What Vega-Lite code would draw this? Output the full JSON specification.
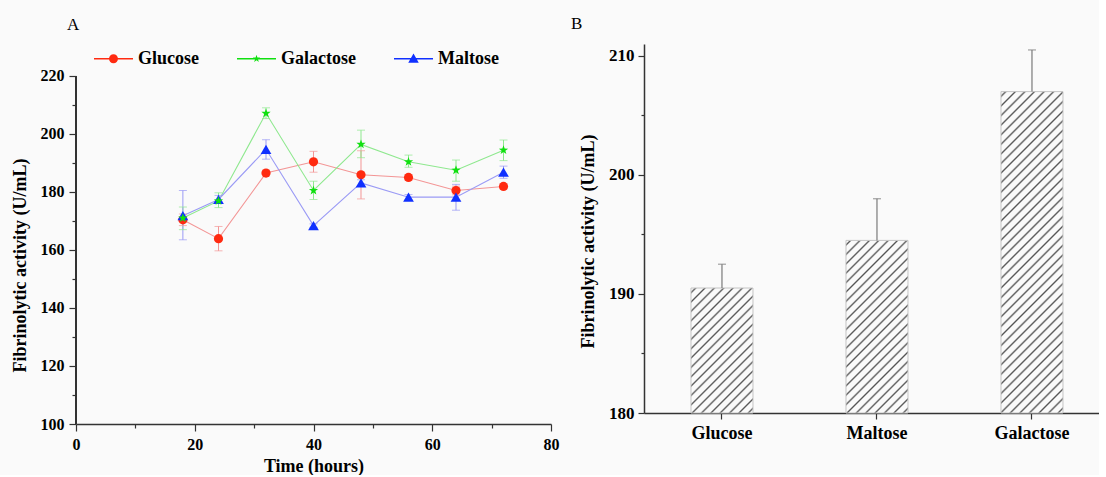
{
"$schema": "https://vega.github.io/schema/vega-lite/v6.json",
"background": "#fafafa",
"padding": {"left": 11, "top": 15, "right": 0, "bottom": 0},
"spacing": 12,
"config": {
  "font": "Liberation Serif",
  "view": {"stroke": null},
  "axis": {"labelFont": "Liberation Serif", "labelFontWeight": "bold", "labelFontSize": 16, "labelColor": "#000", "titleFont": "Liberation Serif", "titleFontWeight": "bold", "titleFontSize": 18, "titleColor": "#000", "domainColor": "#333", "domainWidth": 1.5, "tickColor": "#333", "tickWidth": 1.2, "grid": false, "labelFlush": false, "labelOverlap": false},
  "title": {"font": "Liberation Serif", "fontSize": 17, "fontWeight": "normal", "anchor": "start", "frame": "group", "color": "#000"}
},
"hconcat": [
{
  "width": 475, "height": 380,
  "title": {"text": "A", "dx": -9, "offset": 10},
  "data": {"values": [
    {"time": 18, "sugar": "Glucose", "value": 170.4, "lo": 168.4, "hi": 172.4},
    {"time": 24, "sugar": "Glucose", "value": 163.9, "lo": 159.7, "hi": 168.1},
    {"time": 32, "sugar": "Glucose", "value": 186.5, "lo": 185.5, "hi": 187.5},
    {"time": 40, "sugar": "Glucose", "value": 190.4, "lo": 186.8, "hi": 194.0},
    {"time": 48, "sugar": "Glucose", "value": 185.9, "lo": 177.6, "hi": 194.2},
    {"time": 56, "sugar": "Glucose", "value": 185.0, "lo": 184.0, "hi": 186.0},
    {"time": 64, "sugar": "Glucose", "value": 180.5, "lo": 179.0, "hi": 182.0},
    {"time": 72, "sugar": "Glucose", "value": 181.9, "lo": 181.0, "hi": 182.8},
    {"time": 18, "sugar": "Galactose", "value": 171.0, "lo": 167.0, "hi": 174.8},
    {"time": 24, "sugar": "Galactose", "value": 176.9, "lo": 174.6, "hi": 179.7},
    {"time": 32, "sugar": "Galactose", "value": 207.1, "lo": 205.3, "hi": 209.0},
    {"time": 40, "sugar": "Galactose", "value": 180.5, "lo": 177.4, "hi": 183.7},
    {"time": 48, "sugar": "Galactose", "value": 196.4, "lo": 191.8, "hi": 201.3},
    {"time": 56, "sugar": "Galactose", "value": 190.4, "lo": 188.5, "hi": 192.7},
    {"time": 64, "sugar": "Galactose", "value": 187.5, "lo": 183.7, "hi": 191.0},
    {"time": 72, "sugar": "Galactose", "value": 194.4, "lo": 190.8, "hi": 197.9},
    {"time": 18, "sugar": "Maltose", "value": 171.8, "lo": 163.5, "hi": 180.5},
    {"time": 24, "sugar": "Maltose", "value": 177.4, "lo": 176.0, "hi": 178.8},
    {"time": 32, "sugar": "Maltose", "value": 194.7, "lo": 191.3, "hi": 198.0},
    {"time": 40, "sugar": "Maltose", "value": 168.4, "lo": 167.8, "hi": 169.0},
    {"time": 48, "sugar": "Maltose", "value": 183.1, "lo": 182.0, "hi": 184.2},
    {"time": 56, "sugar": "Maltose", "value": 178.2, "lo": 177.3, "hi": 179.1},
    {"time": 64, "sugar": "Maltose", "value": 178.2, "lo": 173.7, "hi": 182.6},
    {"time": 72, "sugar": "Maltose", "value": 186.8, "lo": 184.7, "hi": 188.9}
  ]},
  "encoding": {
    "x": {"field": "time", "type": "quantitative", "title": "Time (hours)", "scale": {"domain": [0, 80], "nice": false}, "axis": {"values": [0,10,20,30,40,50,60,70,80], "labelExpr": "datum.value % 20 === 0 ? datum.label : ''", "tickSize": {"condition": {"test": "datum.value % 20 === 0", "value": 7}, "value": 4}, "titlePadding": 5, "labelPadding": 5}},
    "y": {"field": "value", "type": "quantitative", "title": "Fibrinolytic activity (U/mL)", "scale": {"domain": [100, 231], "nice": false, "zero": false}, "axis": {"values": [100,110,120,130,140,150,160,170,180,190,200,210,220], "domain": false, "labelExpr": "datum.value % 20 === 0 ? datum.label : ''", "tickSize": {"condition": {"test": "datum.value % 20 === 0", "value": 7}, "value": 4}, "titlePadding": 11, "labelPadding": 5, "titleY": 221}}
  },
  "layer": [
    {"mark": {"type": "rule", "color": "#333", "strokeWidth": 1.5},
     "encoding": {"x": {"datum": 0, "type": "quantitative", "title": "Time (hours)"}, "y": {"datum": 100, "type": "quantitative", "title": "Fibrinolytic activity (U/mL)"}, "y2": {"datum": 220}}},
    {"mark": {"type": "line", "strokeWidth": 1.1},
     "encoding": {"stroke": {"field": "sugar", "type": "nominal", "scale": {"range": ["#8ee88e", "#f39595", "#9a9af5"]}, "legend": null}}},
    {"mark": {"type": "rule", "strokeWidth": 1},
     "encoding": {"y": {"field": "lo", "type": "quantitative", "title": "Fibrinolytic activity (U/mL)"}, "y2": {"field": "hi"},
       "stroke": {"field": "sugar", "type": "nominal", "scale": {"range": ["#8ee88e", "#f39595", "#9a9af5"]}, "legend": null}}},
    {"mark": {"type": "tick", "orient": "horizontal", "size": 8, "thickness": 1},
     "encoding": {"y": {"field": "lo", "type": "quantitative", "title": "Fibrinolytic activity (U/mL)"},
       "fill": {"field": "sugar", "type": "nominal", "scale": {"range": ["#8ee88e", "#f39595", "#9a9af5"]}, "legend": null}}},
    {"mark": {"type": "tick", "orient": "horizontal", "size": 8, "thickness": 1},
     "encoding": {"y": {"field": "hi", "type": "quantitative", "title": "Fibrinolytic activity (U/mL)"},
       "fill": {"field": "sugar", "type": "nominal", "scale": {"range": ["#8ee88e", "#f39595", "#9a9af5"]}, "legend": null}}},
    {"mark": {"type": "point", "filled": true, "opacity": 0, "strokeWidth": 0},
     "encoding": {
       "color": {"field": "sugar", "type": "nominal", "scale": {"domain": ["Glucose", "Galactose", "Maltose"], "range": ["#ff2a10", "#10e010", "#1030ff"]},
         "legend": {"orient": "none", "legendX": 18, "legendY": -5, "direction": "horizontal", "title": null, "labelFont": "Liberation Serif", "labelFontWeight": "bold", "labelFontSize": 18, "labelColor": "#000", "symbolSize": 1521, "symbolStrokeWidth": 0, "columnPadding": 38, "labelOffset": 5, "symbolOpacity": 1, "padding": 0}},
       "shape": {"field": "sugar", "type": "nominal", "scale": {"domain": ["Glucose", "Galactose", "Maltose"], "range": [
           "M-1,-0.033H1V0.033H-1Z M-0.23,0A0.23,0.23,0,1,1,0.23,0A0.23,0.23,0,1,1,-0.23,0Z",
           "M-1,-0.033H1V0.033H-1Z M0,-0.2L0.047,-0.065L0.19,-0.062L0.076,0.025L0.118,0.162L0,0.08L-0.118,0.162L-0.076,0.025L-0.19,-0.062L-0.047,-0.065Z",
           "M-1,-0.033H1V0.033H-1Z M0,-0.27L0.27,0.2H-0.27Z"]},
         "legend": {"orient": "none", "legendX": 18, "legendY": -5, "direction": "horizontal", "title": null, "labelFont": "Liberation Serif", "labelFontWeight": "bold", "labelFontSize": 18, "labelColor": "#000", "symbolSize": 1521, "symbolStrokeWidth": 0, "columnPadding": 38, "labelOffset": 5, "symbolOpacity": 1, "padding": 0}}
     }},
    {"transform": [{"filter": "datum.sugar === 'Glucose'"}],
     "mark": {"type": "point", "shape": "circle", "filled": true, "fill": "#ff2a10", "size": 85, "opacity": 1, "strokeWidth": 0}},
    {"transform": [{"filter": "datum.sugar === 'Maltose'"}],
     "mark": {"type": "point", "shape": "triangle-up", "filled": true, "fill": "#1030ff", "size": 115, "opacity": 1, "strokeWidth": 0}},
    {"transform": [{"filter": "datum.sugar === 'Galactose'"}],
     "mark": {"type": "point", "shape": "M0,-1L0.235,-0.324L0.951,-0.309L0.38,0.124L0.588,0.809L0,0.4L-0.588,0.809L-0.38,0.124L-0.951,-0.309L-0.235,-0.324Z", "filled": true, "fill": "#10e010", "size": 95, "opacity": 1, "strokeWidth": 0}}
  ]
},
{
  "width": 455, "height": 369,
  "title": {"text": "B", "dx": -73, "offset": 11},
  "data": {"values": [
    {"carbon": "Glucose", "value": 190.5, "hi": 192.5},
    {"carbon": "Maltose", "value": 194.5, "hi": 198.0},
    {"carbon": "Galactose", "value": 207.0, "hi": 210.5}
  ]},
  "encoding": {
    "x": {"field": "carbon", "type": "nominal", "sort": null, "title": null, "scale": {"paddingInner": 0.6, "paddingOuter": 0.2677, "align": 0.566}, "axis": {"labelAngle": 0, "tickSize": 6, "labelPadding": 5, "labelFontSize": 18}}
  },
  "layer": [
    {"mark": {"type": "bar", "stroke": "#c4c4c4", "strokeWidth": 1},
     "encoding": {
       "y": {"field": "value", "type": "quantitative", "title": "Fibrinolytic activity (U/mL)", "scale": {"domain": [180, 211], "nice": false, "zero": false}, "axis": {"values": [180,185,190,195,200,205,210], "labelExpr": "datum.value % 10 === 0 ? datum.label : ''", "labelFontSize": 17, "tickSize": {"condition": {"test": "datum.value % 10 === 0", "value": 6}, "value": 3}, "titlePadding": 11, "labelPadding": 4, "titleY": 197}},
       "y2": {"datum": 180},
       "fill": {"condition": [
         {"test": "datum.carbon === 'Glucose'", "value": {"gradient": "linear", "x1": 0, "y1": 0, "x2": 0.5955, "y2": 1.2006, "stops": [
{"offset":0.015,"color":"#fafafa"},{"offset":0.025,"color":"#555555"},{"offset":0.035,"color":"#fafafa"},
{"offset":0.065,"color":"#fafafa"},{"offset":0.075,"color":"#555555"},{"offset":0.085,"color":"#fafafa"},
{"offset":0.115,"color":"#fafafa"},{"offset":0.125,"color":"#555555"},{"offset":0.135,"color":"#fafafa"},
{"offset":0.165,"color":"#fafafa"},{"offset":0.175,"color":"#555555"},{"offset":0.185,"color":"#fafafa"},
{"offset":0.215,"color":"#fafafa"},{"offset":0.225,"color":"#555555"},{"offset":0.235,"color":"#fafafa"},
{"offset":0.265,"color":"#fafafa"},{"offset":0.275,"color":"#555555"},{"offset":0.285,"color":"#fafafa"},
{"offset":0.315,"color":"#fafafa"},{"offset":0.325,"color":"#555555"},{"offset":0.335,"color":"#fafafa"},
{"offset":0.365,"color":"#fafafa"},{"offset":0.375,"color":"#555555"},{"offset":0.385,"color":"#fafafa"},
{"offset":0.415,"color":"#fafafa"},{"offset":0.425,"color":"#555555"},{"offset":0.435,"color":"#fafafa"},
{"offset":0.465,"color":"#fafafa"},{"offset":0.475,"color":"#555555"},{"offset":0.485,"color":"#fafafa"},
{"offset":0.515,"color":"#fafafa"},{"offset":0.525,"color":"#555555"},{"offset":0.535,"color":"#fafafa"},
{"offset":0.565,"color":"#fafafa"},{"offset":0.575,"color":"#555555"},{"offset":0.585,"color":"#fafafa"},
{"offset":0.615,"color":"#fafafa"},{"offset":0.625,"color":"#555555"},{"offset":0.635,"color":"#fafafa"},
{"offset":0.665,"color":"#fafafa"},{"offset":0.675,"color":"#555555"},{"offset":0.685,"color":"#fafafa"},
{"offset":0.715,"color":"#fafafa"},{"offset":0.725,"color":"#555555"},{"offset":0.735,"color":"#fafafa"},
{"offset":0.765,"color":"#fafafa"},{"offset":0.775,"color":"#555555"},{"offset":0.785,"color":"#fafafa"},
{"offset":0.815,"color":"#fafafa"},{"offset":0.825,"color":"#555555"},{"offset":0.835,"color":"#fafafa"},
{"offset":0.865,"color":"#fafafa"},{"offset":0.875,"color":"#555555"},{"offset":0.885,"color":"#fafafa"},
{"offset":0.915,"color":"#fafafa"},{"offset":0.925,"color":"#555555"},{"offset":0.935,"color":"#fafafa"},
{"offset":0.965,"color":"#fafafa"},{"offset":0.975,"color":"#555555"},{"offset":0.985,"color":"#fafafa"}
         ]}},
         {"test": "datum.carbon === 'Maltose'", "value": {"gradient": "linear", "x1": 0, "y1": 0, "x2": 0.4324, "y2": 1.2039, "stops": [
{"offset":0.012,"color":"#fafafa"},{"offset":0.02,"color":"#555555"},{"offset":0.028,"color":"#fafafa"},
{"offset":0.052,"color":"#fafafa"},{"offset":0.06,"color":"#555555"},{"offset":0.068,"color":"#fafafa"},
{"offset":0.092,"color":"#fafafa"},{"offset":0.1,"color":"#555555"},{"offset":0.108,"color":"#fafafa"},
{"offset":0.132,"color":"#fafafa"},{"offset":0.14,"color":"#555555"},{"offset":0.148,"color":"#fafafa"},
{"offset":0.172,"color":"#fafafa"},{"offset":0.18,"color":"#555555"},{"offset":0.188,"color":"#fafafa"},
{"offset":0.212,"color":"#fafafa"},{"offset":0.22,"color":"#555555"},{"offset":0.228,"color":"#fafafa"},
{"offset":0.252,"color":"#fafafa"},{"offset":0.26,"color":"#555555"},{"offset":0.268,"color":"#fafafa"},
{"offset":0.292,"color":"#fafafa"},{"offset":0.3,"color":"#555555"},{"offset":0.308,"color":"#fafafa"},
{"offset":0.332,"color":"#fafafa"},{"offset":0.34,"color":"#555555"},{"offset":0.348,"color":"#fafafa"},
{"offset":0.372,"color":"#fafafa"},{"offset":0.38,"color":"#555555"},{"offset":0.388,"color":"#fafafa"},
{"offset":0.412,"color":"#fafafa"},{"offset":0.42,"color":"#555555"},{"offset":0.428,"color":"#fafafa"},
{"offset":0.452,"color":"#fafafa"},{"offset":0.46,"color":"#555555"},{"offset":0.468,"color":"#fafafa"},
{"offset":0.492,"color":"#fafafa"},{"offset":0.5,"color":"#555555"},{"offset":0.508,"color":"#fafafa"},
{"offset":0.532,"color":"#fafafa"},{"offset":0.54,"color":"#555555"},{"offset":0.548,"color":"#fafafa"},
{"offset":0.572,"color":"#fafafa"},{"offset":0.58,"color":"#555555"},{"offset":0.588,"color":"#fafafa"},
{"offset":0.612,"color":"#fafafa"},{"offset":0.62,"color":"#555555"},{"offset":0.628,"color":"#fafafa"},
{"offset":0.652,"color":"#fafafa"},{"offset":0.66,"color":"#555555"},{"offset":0.668,"color":"#fafafa"},
{"offset":0.692,"color":"#fafafa"},{"offset":0.7,"color":"#555555"},{"offset":0.708,"color":"#fafafa"},
{"offset":0.732,"color":"#fafafa"},{"offset":0.74,"color":"#555555"},{"offset":0.748,"color":"#fafafa"},
{"offset":0.772,"color":"#fafafa"},{"offset":0.78,"color":"#555555"},{"offset":0.788,"color":"#fafafa"},
{"offset":0.812,"color":"#fafafa"},{"offset":0.82,"color":"#555555"},{"offset":0.828,"color":"#fafafa"},
{"offset":0.852,"color":"#fafafa"},{"offset":0.86,"color":"#555555"},{"offset":0.868,"color":"#fafafa"},
{"offset":0.892,"color":"#fafafa"},{"offset":0.9,"color":"#555555"},{"offset":0.908,"color":"#fafafa"},
{"offset":0.932,"color":"#fafafa"},{"offset":0.94,"color":"#555555"},{"offset":0.948,"color":"#fafafa"},
{"offset":0.972,"color":"#fafafa"},{"offset":0.98,"color":"#555555"},{"offset":0.988,"color":"#fafafa"}
         ]}}
       ],
       "value": {"gradient": "linear", "x1": 0, "y1": 0, "x2": 0.222, "y2": 1.15, "stops": [
{"offset":0.0075,"color":"#fafafa"},{"offset":0.0125,"color":"#555555"},{"offset":0.0175,"color":"#fafafa"},
{"offset":0.0325,"color":"#fafafa"},{"offset":0.0375,"color":"#555555"},{"offset":0.0425,"color":"#fafafa"},
{"offset":0.0575,"color":"#fafafa"},{"offset":0.0625,"color":"#555555"},{"offset":0.0675,"color":"#fafafa"},
{"offset":0.0825,"color":"#fafafa"},{"offset":0.0875,"color":"#555555"},{"offset":0.0925,"color":"#fafafa"},
{"offset":0.1075,"color":"#fafafa"},{"offset":0.1125,"color":"#555555"},{"offset":0.1175,"color":"#fafafa"},
{"offset":0.1325,"color":"#fafafa"},{"offset":0.1375,"color":"#555555"},{"offset":0.1425,"color":"#fafafa"},
{"offset":0.1575,"color":"#fafafa"},{"offset":0.1625,"color":"#555555"},{"offset":0.1675,"color":"#fafafa"},
{"offset":0.1825,"color":"#fafafa"},{"offset":0.1875,"color":"#555555"},{"offset":0.1925,"color":"#fafafa"},
{"offset":0.2075,"color":"#fafafa"},{"offset":0.2125,"color":"#555555"},{"offset":0.2175,"color":"#fafafa"},
{"offset":0.2325,"color":"#fafafa"},{"offset":0.2375,"color":"#555555"},{"offset":0.2425,"color":"#fafafa"},
{"offset":0.2575,"color":"#fafafa"},{"offset":0.2625,"color":"#555555"},{"offset":0.2675,"color":"#fafafa"},
{"offset":0.2825,"color":"#fafafa"},{"offset":0.2875,"color":"#555555"},{"offset":0.2925,"color":"#fafafa"},
{"offset":0.3075,"color":"#fafafa"},{"offset":0.3125,"color":"#555555"},{"offset":0.3175,"color":"#fafafa"},
{"offset":0.3325,"color":"#fafafa"},{"offset":0.3375,"color":"#555555"},{"offset":0.3425,"color":"#fafafa"},
{"offset":0.3575,"color":"#fafafa"},{"offset":0.3625,"color":"#555555"},{"offset":0.3675,"color":"#fafafa"},
{"offset":0.3825,"color":"#fafafa"},{"offset":0.3875,"color":"#555555"},{"offset":0.3925,"color":"#fafafa"},
{"offset":0.4075,"color":"#fafafa"},{"offset":0.4125,"color":"#555555"},{"offset":0.4175,"color":"#fafafa"},
{"offset":0.4325,"color":"#fafafa"},{"offset":0.4375,"color":"#555555"},{"offset":0.4425,"color":"#fafafa"},
{"offset":0.4575,"color":"#fafafa"},{"offset":0.4625,"color":"#555555"},{"offset":0.4675,"color":"#fafafa"},
{"offset":0.4825,"color":"#fafafa"},{"offset":0.4875,"color":"#555555"},{"offset":0.4925,"color":"#fafafa"},
{"offset":0.5075,"color":"#fafafa"},{"offset":0.5125,"color":"#555555"},{"offset":0.5175,"color":"#fafafa"},
{"offset":0.5325,"color":"#fafafa"},{"offset":0.5375,"color":"#555555"},{"offset":0.5425,"color":"#fafafa"},
{"offset":0.5575,"color":"#fafafa"},{"offset":0.5625,"color":"#555555"},{"offset":0.5675,"color":"#fafafa"},
{"offset":0.5825,"color":"#fafafa"},{"offset":0.5875,"color":"#555555"},{"offset":0.5925,"color":"#fafafa"},
{"offset":0.6075,"color":"#fafafa"},{"offset":0.6125,"color":"#555555"},{"offset":0.6175,"color":"#fafafa"},
{"offset":0.6325,"color":"#fafafa"},{"offset":0.6375,"color":"#555555"},{"offset":0.6425,"color":"#fafafa"},
{"offset":0.6575,"color":"#fafafa"},{"offset":0.6625,"color":"#555555"},{"offset":0.6675,"color":"#fafafa"},
{"offset":0.6825,"color":"#fafafa"},{"offset":0.6875,"color":"#555555"},{"offset":0.6925,"color":"#fafafa"},
{"offset":0.7075,"color":"#fafafa"},{"offset":0.7125,"color":"#555555"},{"offset":0.7175,"color":"#fafafa"},
{"offset":0.7325,"color":"#fafafa"},{"offset":0.7375,"color":"#555555"},{"offset":0.7425,"color":"#fafafa"},
{"offset":0.7575,"color":"#fafafa"},{"offset":0.7625,"color":"#555555"},{"offset":0.7675,"color":"#fafafa"},
{"offset":0.7825,"color":"#fafafa"},{"offset":0.7875,"color":"#555555"},{"offset":0.7925,"color":"#fafafa"},
{"offset":0.8075,"color":"#fafafa"},{"offset":0.8125,"color":"#555555"},{"offset":0.8175,"color":"#fafafa"},
{"offset":0.8325,"color":"#fafafa"},{"offset":0.8375,"color":"#555555"},{"offset":0.8425,"color":"#fafafa"},
{"offset":0.8575,"color":"#fafafa"},{"offset":0.8625,"color":"#555555"},{"offset":0.8675,"color":"#fafafa"},
{"offset":0.8825,"color":"#fafafa"},{"offset":0.8875,"color":"#555555"},{"offset":0.8925,"color":"#fafafa"},
{"offset":0.9075,"color":"#fafafa"},{"offset":0.9125,"color":"#555555"},{"offset":0.9175,"color":"#fafafa"},
{"offset":0.9325,"color":"#fafafa"},{"offset":0.9375,"color":"#555555"},{"offset":0.9425,"color":"#fafafa"},
{"offset":0.9575,"color":"#fafafa"},{"offset":0.9625,"color":"#555555"},{"offset":0.9675,"color":"#fafafa"},
{"offset":0.9825,"color":"#fafafa"},{"offset":0.9875,"color":"#555555"},{"offset":0.9925,"color":"#fafafa"}
       ]}}
     }},
    {"mark": {"type": "rule", "color": "#7a7a7a", "strokeWidth": 1.2},
     "encoding": {"y": {"field": "value", "type": "quantitative", "title": "Fibrinolytic activity (U/mL)"}, "y2": {"field": "hi"}}},
    {"mark": {"type": "tick", "orient": "horizontal", "size": 8, "thickness": 1.2, "color": "#7a7a7a"},
     "encoding": {"y": {"field": "hi", "type": "quantitative", "title": "Fibrinolytic activity (U/mL)"}}}
  ]
}
]
}
